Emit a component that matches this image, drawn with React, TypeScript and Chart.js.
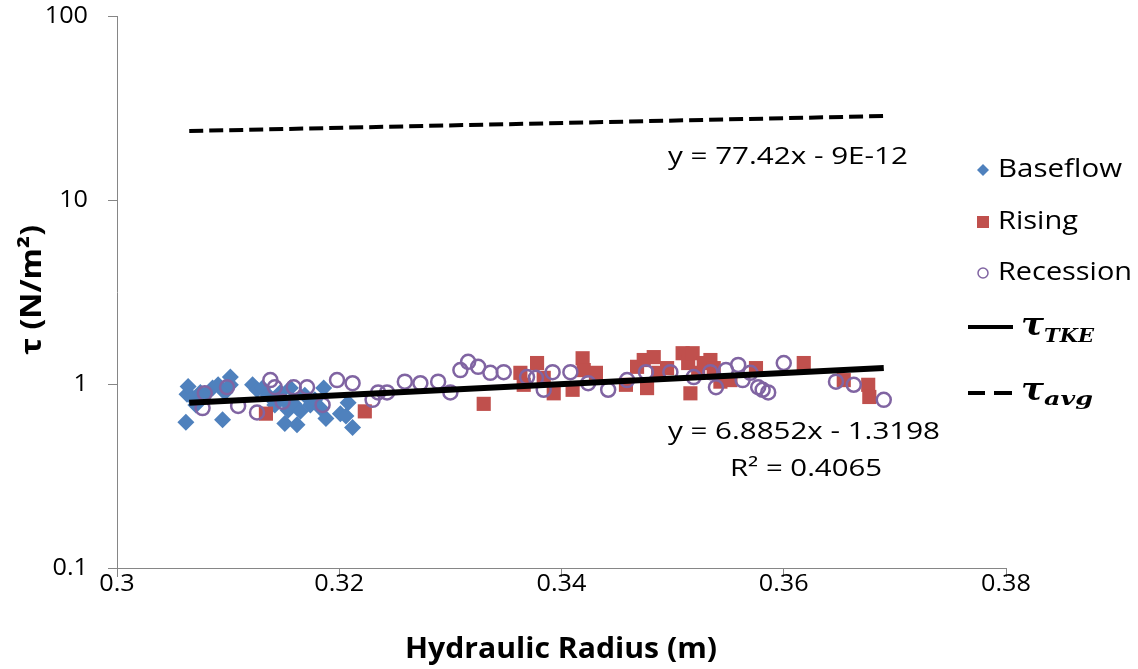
import React, { useEffect, useRef } from "react";
import { Chart, registerables } from "chart.js";

Chart.register(...registerables);

// ---------- data ----------
const baseflowX = [0.3062, 0.3063, 0.3064, 0.3068, 0.3071, 0.3075, 0.3079, 0.3086, 0.3091, 0.3095, 0.3097, 0.3102, 0.3102, 0.3122, 0.3126, 0.3131, 0.3136, 0.3142, 0.3147, 0.315, 0.3151, 0.3154, 0.3156, 0.3159, 0.3162, 0.3165, 0.3169, 0.3174, 0.3178, 0.3183, 0.3186, 0.3188, 0.3201, 0.3206, 0.3208, 0.3212];
const baseflowY = [0.62, 0.88, 0.97, 0.84, 0.77, 0.9, 0.87, 0.95, 0.99, 0.64, 0.9, 1.09, 0.99, 0.99, 0.93, 0.95, 0.87, 0.77, 0.9, 0.82, 0.61, 0.72, 0.95, 0.78, 0.6, 0.71, 0.87, 0.77, 0.82, 0.74, 0.95, 0.65, 0.69, 0.67, 0.79, 0.58];

const risingX = [0.3134, 0.3223, 0.333, 0.3363, 0.3366, 0.3378, 0.3384, 0.3393, 0.341, 0.3419, 0.342, 0.3431, 0.3458, 0.3468, 0.3474, 0.3477, 0.3483, 0.3487, 0.3495, 0.3509, 0.3514, 0.3518, 0.3516, 0.3523, 0.3528, 0.3534, 0.3537, 0.3543, 0.3552, 0.3575, 0.3618, 0.3654, 0.3676, 0.3677];
const risingY = [0.69, 0.71, 0.78, 1.15, 0.99, 1.3, 1.08, 0.89, 0.93, 1.38, 1.19, 1.15, 0.99, 1.24, 1.35, 0.95, 1.4, 1.15, 1.22, 1.47, 1.3, 1.47, 0.89, 1.15, 1.3, 1.35, 1.22, 1.03, 1.05, 1.22, 1.3, 1.05, 0.99, 0.85];

const recessionX = [0.3077, 0.3079, 0.3099, 0.3109, 0.3126, 0.3138, 0.3142, 0.3149, 0.3159, 0.3171, 0.3185, 0.3198, 0.3212, 0.323, 0.3235, 0.3243, 0.3259, 0.3273, 0.3289, 0.33, 0.3309, 0.3316, 0.3325, 0.3336, 0.3348, 0.3369, 0.3377, 0.3384, 0.3392, 0.3408, 0.3424, 0.3442, 0.3459, 0.3476, 0.3498, 0.3519, 0.3534, 0.3539, 0.3548, 0.3559, 0.3563, 0.357, 0.3577, 0.3581, 0.3586, 0.36, 0.3647, 0.3663, 0.369];
const recessionY = [0.74, 0.89, 0.96, 0.76, 0.7, 1.05, 0.96, 0.8, 0.96, 0.96, 0.77, 1.05, 1.01, 0.82, 0.9, 0.9, 1.03, 1.01, 1.03, 0.9, 1.19, 1.32, 1.24, 1.15, 1.16, 1.09, 1.08, 0.93, 1.16, 1.16, 1.01, 0.93, 1.05, 1.16, 1.16, 1.09, 1.16, 0.96, 1.19, 1.27, 1.05, 1.15, 0.96, 0.93, 0.9, 1.3, 1.03, 0.99, 0.82];

const tkeLineX = [0.3065, 0.369];
const tkeLineY = [0.79, 1.22];
const avgLineX = [0.3065, 0.369];
const avgLineY = [23.7, 28.6];

const xTicks = [0.3, 0.32, 0.34, 0.36, 0.38];
const xTickLabels = ["0.3", "0.32", "0.34", "0.36", "0.38"];
const yTicks = [0.1, 1, 10, 100];
const yTickLabels = ["0.1", "1", "10", "100"];

const seriesNames = ["Baseflow", "Rising", "Recession"];
const xTitle = "Hydraulic Radius (m)";
const yTitle = "τ (N/m²)";
const avgEq = "y = 77.42x - 9E-12";
const tkeEq = "y = 6.8852x - 1.3198";
const tkeR2 = "R² = 0.4065";

const BLUE = "#4F81BD";
const RED = "#C0504D";
const PURPLE = "#8064A2";
const AXIS = "#868686";
const SANS = '"Open Sans", "DejaVu Sans", sans-serif';

const pts = (xs: number[], ys: number[]) => xs.map((x, i) => ({ x, y: ys[i] }));

function drawText(
  ctx: CanvasRenderingContext2D,
  s: string,
  x: number,
  y: number,
  font: string,
  align: "left" | "center" | "right",
  sx: number,
  targetW?: number
) {
  ctx.save();
  ctx.font = font;
  ctx.textBaseline = "middle";
  ctx.textAlign = "left";
  const raw = ctx.measureText(s).width;
  const scale = targetW ? targetW / raw : sx;
  const w = raw * scale;
  const left = align === "center" ? x - w / 2 : align === "right" ? x - w : x;
  ctx.translate(left, y);
  ctx.scale(scale, 1);
  ctx.fillStyle = "#000";
  ctx.fillText(s, 0, 0);
  ctx.restore();
}

const textPlugin = {
  id: "customText",
  afterDraw(chart: any) {
    const ctx: CanvasRenderingContext2D = chart.ctx;
    const xs = chart.scales.x;
    const ys = chart.scales.y;
    const SX = 1.05;
    // tick labels
    xTicks.forEach((v, i) => {
      drawText(ctx, xTickLabels[i], xs.getPixelForValue(v), 584, `24px ${SANS}`, "center", SX);
    });
    yTicks.forEach((v, i) => {
      drawText(ctx, yTickLabels[i], 88, ys.getPixelForValue(v), `24px ${SANS}`, "right", SX);
    });
    // axis titles
    drawText(ctx, xTitle, 561, 650, `bold 28px ${SANS}`, "center", 1, 312);
    ctx.save();
    ctx.translate(33, 290);
    ctx.rotate(-Math.PI / 2);
    drawText(ctx, yTitle, 0, 0, `bold 28px ${SANS}`, "center", 1, 130);
    ctx.restore();
    // equations
    drawText(ctx, avgEq, 668, 157, `24px ${SANS}`, "left", 1, 240);
    drawText(ctx, tkeEq, 668, 432, `24px ${SANS}`, "left", 1, 272);
    drawText(ctx, tkeR2, 730, 469, `24px ${SANS}`, "left", 1, 152);

    // legend
    const lx = 983;
    ctx.save();
    ctx.fillStyle = BLUE;
    ctx.beginPath();
    ctx.moveTo(lx, 170 - 6);
    ctx.lineTo(lx + 6, 170);
    ctx.lineTo(lx, 170 + 6);
    ctx.lineTo(lx - 6, 170);
    ctx.closePath();
    ctx.fill();
    ctx.fillStyle = RED;
    ctx.fillRect(lx - 6, 222 - 6, 12, 12);
    ctx.strokeStyle = PURPLE;
    ctx.lineWidth = 1.5;
    ctx.beginPath();
    ctx.arc(lx, 273, 5, 0, Math.PI * 2);
    ctx.stroke();
    ctx.strokeStyle = "#000";
    ctx.lineWidth = 4;
    ctx.beginPath();
    ctx.moveTo(968, 327);
    ctx.lineTo(1013, 327);
    ctx.stroke();
    ctx.beginPath();
    ctx.moveTo(968, 393);
    ctx.lineTo(985, 393);
    ctx.moveTo(994, 393);
    ctx.lineTo(1012, 393);
    ctx.stroke();
    ctx.restore();
    drawText(ctx, seriesNames[0], 998, 170, `25px ${SANS}`, "left", 1, 124);
    drawText(ctx, seriesNames[1], 998, 222, `25px ${SANS}`, "left", 1, 80);
    drawText(ctx, seriesNames[2], 998, 273, `25px ${SANS}`, "left", 1, 134);
    const SERIF = '"DejaVu Serif", "Liberation Serif", serif';
    drawText(ctx, "τ", 1021, 327, `bold italic 31px ${SERIF}`, "left", 1, 23);
    drawText(ctx, "TKE", 1044, 337, `bold italic 19px ${SERIF}`, "left", 1, 50);
    drawText(ctx, "τ", 1021, 392, `bold italic 31px ${SERIF}`, "left", 1, 23);
    drawText(ctx, "avg", 1044, 400, `bold italic 19px ${SERIF}`, "left", 1, 49);
  },
};

export default function App() {
  const ref = useRef<HTMLCanvasElement | null>(null);
  useEffect(() => {
    if (!ref.current) return;
    const chart = new Chart(ref.current, {
      type: "scatter",
      data: {
        datasets: [
          {
            type: "line",
            label: "tauTKE",
            data: pts(tkeLineX, tkeLineY),
            borderColor: "#000",
            borderWidth: 6,
            pointRadius: 0,
            showLine: true,
            order: 0,
          } as any,
          {
            type: "line",
            label: "tauAvg",
            data: pts(avgLineX, avgLineY),
            borderColor: "#000",
            borderWidth: 4,
            borderDash: [14, 6],
            pointRadius: 0,
            showLine: true,
            order: 0,
          } as any,
          {
            label: seriesNames[2],
            data: pts(recessionX, recessionY),
            pointStyle: "circle",
            pointRadius: 7,
            borderWidth: 2.5,
            borderColor: PURPLE,
            backgroundColor: "rgba(255,255,255,0)",
            order: 1,
          },
          {
            label: seriesNames[1],
            data: pts(risingX, risingY),
            pointStyle: "rect",
            pointRadius: 10,
            borderWidth: 0,
            borderColor: RED,
            backgroundColor: RED,
            order: 2,
          },
          {
            label: seriesNames[0],
            data: pts(baseflowX, baseflowY),
            pointStyle: "rectRot",
            pointRadius: 8.5,
            borderWidth: 0,
            borderColor: BLUE,
            backgroundColor: BLUE,
            order: 3,
          },
        ],
      },
      options: {
        animation: false,
        responsive: false,
        layout: { padding: { left: 0, top: 16, right: 132, bottom: 0 } },
        plugins: { legend: { display: false }, tooltip: { enabled: false } },
        scales: {
          x: {
            type: "linear",
            min: 0.3,
            max: 0.38,
            afterBuildTicks: (s: any) => {
              s.ticks = xTicks.map((v) => ({ value: v }));
            },
            afterFit: (s: any) => {
              s.height = 101;
            },
            ticks: { display: false },
            grid: { drawOnChartArea: false, drawTicks: true, tickLength: 9, color: AXIS },
            border: { display: true, color: AXIS, width: 1 },
          },
          y: {
            type: "logarithmic",
            min: 0.1,
            max: 100,
            afterBuildTicks: (s: any) => {
              s.ticks = yTicks.map((v) => ({ value: v }));
            },
            afterFit: (s: any) => {
              s.width = 117;
            },
            ticks: { display: false },
            grid: { drawOnChartArea: false, drawTicks: true, tickLength: 9, color: AXIS },
            border: { display: true, color: AXIS, width: 1 },
          },
        },
      } as any,
      plugins: [textPlugin],
    });
    return () => chart.destroy();
  }, []);
  return (
    <div style={{ position: "fixed", left: 0, top: 0, width: 1138, height: 669, background: "#fff" }}>
      <canvas ref={ref} width={1138} height={669} style={{ display: "block" }} />
    </div>
  );
}
